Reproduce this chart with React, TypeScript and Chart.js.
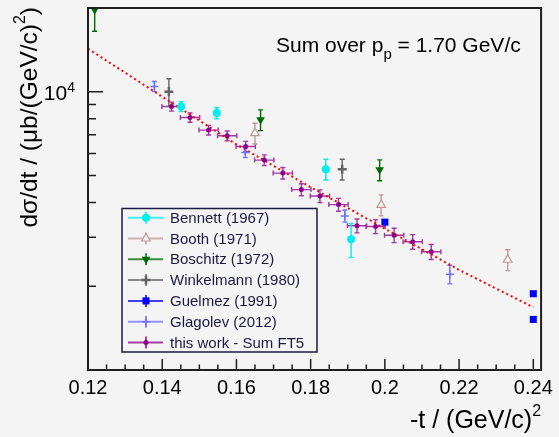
import React, { useEffect, useRef } from 'react';
import { Chart, registerables } from 'chart.js';
import { drawPoint } from 'chart.js/helpers';

Chart.register(...registerables);

const W = 559;
const H = 437;
const FONT = '"Liberation Sans", Arial, Helvetica, sans-serif';
const BG = '#f4f4f4';

// ---------- data ----------
const thisWorkX = [0.1425, 0.1475, 0.1525, 0.1575, 0.1625, 0.1675, 0.1725, 0.1775, 0.1825, 0.1875, 0.1925, 0.1975, 0.2025, 0.2075, 0.2125];
const thisWorkY = [8850, 8080, 7280, 6950, 6360, 5680, 5100, 4450, 4220, 3930, 3300, 3280, 3050, 2890, 2660];
const thisWorkErr = [330, 310, 290, 280, 270, 250, 240, 220, 220, 210, 190, 190, 180, 175, 165];
const thisWorkBinHalf = 0.0026;

const bennettX = [0.1451, 0.1547, 0.1841, 0.1909];
const bennettY = [8850, 8380, 5270, 2950];
const bennettErr = [360, 385, 450, 410];

const boothX = [0.165, 0.199, 0.2331];
const boothY = [7100, 3920, 2490];
const boothErr = [610, 340, 215];

const boschitzX = [0.1218, 0.1665, 0.1986];
const boschitzY = [19700, 7930, 5240];
const boschitzErr = [3200, 680, 450];

const winkelmannX = [0.1418, 0.1885];
const winkelmannY = [10000, 5270];
const winkelmannErr = [1140, 450];

const guelmezX = [0.2, 0.24, 0.24];
const guelmezY = [3400, 1880, 1520];

const glagolevX = [0.1379, 0.1624, 0.1892, 0.2175];
const glagolevY = [10450, 6050, 3580, 2210];
const glagolevErr = [440, 250, 180, 170];

const fitX = [0.12, 0.14, 0.16, 0.18, 0.2, 0.22, 0.24];
const fitY = [14280, 9600, 6470, 4540, 3220, 2290, 1680];

const xTickValues = [0.12, 0.14, 0.16, 0.18, 0.2, 0.22, 0.24];
const xMinorTickValues = [0.125, 0.13, 0.135, 0.145, 0.15, 0.155, 0.165, 0.17, 0.175, 0.185, 0.19, 0.195, 0.205, 0.21, 0.215, 0.225, 0.23, 0.235];
const yMajorTickValues = [10000];
const yMinorTickValues = [2000, 3000, 4000, 5000, 6000, 7000, 8000, 9000, 20000];

// ---------- colours ----------
const C_BENNETT = '#00eeee';
const C_BOOTH = '#c09a9a';
const C_BOSCHITZ = '#006a00';
const C_WINKEL = '#646464';
const C_GUELMEZ = '#0000ff';
const C_GLAGOLEV = '#7070ff';
const C_THIS = '#8b008b';
const C_THIS_ERR = '#a536a5';
const C_FIT = '#ff0000';
const C_LEGEND = '#1a1a40';

const pts = (xs: number[], ys: number[]) => xs.map((x, i) => ({ x, y: ys[i] }));

const legendEntries = [
  { label: 'Bennett (1967)', color: C_BENNETT, style: 'circle', radius: 4, fill: C_BENNETT, bw: 0, rot: 0 },
  { label: 'Booth (1971)', color: C_BOOTH, style: 'triangle', radius: 5, fill: BG, bw: 1.2, rot: 0 },
  { label: 'Boschitz (1972)', color: C_BOSCHITZ, style: 'triangle', radius: 5, fill: C_BOSCHITZ, bw: 0, rot: 180 },
  { label: 'Winkelmann (1980)', color: C_WINKEL, style: 'cross', radius: 4.5, fill: C_WINKEL, bw: 2.5, rot: 0 },
  { label: 'Guelmez (1991)', color: C_GUELMEZ, style: 'rect', radius: 5, fill: C_GUELMEZ, bw: 0, rot: 0 },
  { label: 'Glagolev (2012)', color: C_GLAGOLEV, style: 'cross', radius: 4, fill: C_GLAGOLEV, bw: 1.5, rot: 0 },
  { label: 'this work - Sum FT5', color: C_THIS, style: 'circle', radius: 2.5, fill: C_THIS, bw: 0, rot: 0 },
];

type Piece = { t: string; size: number; dy: number };

function drawPieces(ctx: CanvasRenderingContext2D, pieces: Piece[], x: number, y: number, align: 'left' | 'right', angle = 0, color = '#000') {
  ctx.save();
  ctx.translate(x, y);
  ctx.rotate(angle);
  ctx.fillStyle = color;
  ctx.textAlign = 'left';
  ctx.textBaseline = 'alphabetic';
  let total = 0;
  const widths = pieces.map((p) => {
    ctx.font = `${p.size}px ${FONT}`;
    const w = ctx.measureText(p.t).width;
    total += w;
    return w;
  });
  let cx = align === 'right' ? -total : 0;
  pieces.forEach((p, i) => {
    ctx.font = `${p.size}px ${FONT}`;
    ctx.fillText(p.t, cx, p.dy);
    cx += widths[i];
  });
  ctx.restore();
}

const rootPlugin = {
  id: 'rootStyle',
  beforeDraw(chart: any) {
    const ctx = chart.ctx as CanvasRenderingContext2D;
    ctx.save();
    ctx.fillStyle = BG;
    ctx.fillRect(0, 0, chart.width, chart.height);
    ctx.restore();
  },
  beforeDatasetsDraw(chart: any) {
    const ctx = chart.ctx as CanvasRenderingContext2D;
    const xs = chart.scales.x;
    const ys = chart.scales.y;
    const a = chart.chartArea;
    ctx.save();
    ctx.beginPath();
    ctx.rect(a.left, a.top, a.right - a.left, a.bottom - a.top);
    ctx.clip();
    ctx.lineWidth = 1.4;
    const cap = 2.5;
    chart.data.datasets.forEach((ds: any) => {
      if (!ds.errY && !ds.errX) return;
      ctx.strokeStyle = ds.errColor || ds.borderColor;
      ds.data.forEach((p: any, i: number) => {
        const px = xs.getPixelForValue(p.x);
        const py = ys.getPixelForValue(p.y);
        ctx.beginPath();
        if (ds.errY) {
          const e = ds.errY[i];
          const y1 = ys.getPixelForValue(p.y + e);
          const y2 = ys.getPixelForValue(p.y - e);
          ctx.moveTo(px, y1); ctx.lineTo(px, y2);
          ctx.moveTo(px - cap, y1); ctx.lineTo(px + cap, y1);
          ctx.moveTo(px - cap, y2); ctx.lineTo(px + cap, y2);
        }
        if (ds.errX) {
          const e = ds.errX[i];
          const x1 = xs.getPixelForValue(p.x - e);
          const x2 = xs.getPixelForValue(p.x + e);
          ctx.moveTo(x1, py); ctx.lineTo(x2, py);
          ctx.moveTo(x1, py - cap); ctx.lineTo(x1, py + cap);
          ctx.moveTo(x2, py - cap); ctx.lineTo(x2, py + cap);
        }
        ctx.stroke();
      });
    });
    ctx.restore();
  },
  afterDraw(chart: any) {
    const ctx = chart.ctx as CanvasRenderingContext2D;
    const xs = chart.scales.x;
    const ys = chart.scales.y;
    const a = chart.chartArea;
    ctx.save();
    // frame
    ctx.strokeStyle = '#1e1e1e';
    ctx.lineWidth = 2;
    ctx.strokeRect(a.left, a.top, a.right - a.left, a.bottom - a.top);
    // inward ticks
    ctx.lineWidth = 1.5;
    ctx.beginPath();
    xTickValues.forEach((v) => {
      const px = xs.getPixelForValue(v);
      ctx.moveTo(px, a.bottom); ctx.lineTo(px, a.bottom - 11);
    });
    xMinorTickValues.forEach((v) => {
      const px = xs.getPixelForValue(v);
      ctx.moveTo(px, a.bottom); ctx.lineTo(px, a.bottom - 5.5);
    });
    yMajorTickValues.forEach((v) => {
      const py = ys.getPixelForValue(v);
      ctx.moveTo(a.left, py); ctx.lineTo(a.left + 15, py);
    });
    yMinorTickValues.forEach((v) => {
      const py = ys.getPixelForValue(v);
      ctx.moveTo(a.left, py); ctx.lineTo(a.left + 8, py);
    });
    ctx.stroke();
    ctx.restore();

    // y tick label 10^4
    yMajorTickValues.forEach((v) => {
      const py = ys.getPixelForValue(v);
      const exp = Math.round(Math.log10(v));
      drawPieces(ctx, [
        { t: '10', size: 21, dy: 0 },
        { t: String(exp), size: 14, dy: -8 },
      ], a.left - 13, py + 8, 'right');
    });

    // axis titles
    drawPieces(ctx, [
      { t: '-t / (GeV/c)', size: 25, dy: 0 },
      { t: '2', size: 16, dy: -12 },
    ], a.right, 428, 'right');
    drawPieces(ctx, [
      { t: 'd\u03c3/dt / (\u03bcb/(GeV/c)', size: 24.5, dy: 0 },
      { t: '2', size: 16, dy: -12 },
      { t: ')', size: 24.5, dy: 0 },
    ], 37, a.top - 1, 'right', -Math.PI / 2);

    // annotation
    drawPieces(ctx, [
      { t: 'Sum over p', size: 21, dy: 0 },
      { t: 'p', size: 15, dy: 7 },
      { t: ' = 1.70 GeV/c', size: 21, dy: 0 },
    ], 276, 52, 'left');

    // legend
    const lx0 = 122, ly0 = 208.5, lx1 = 317, ly1 = 352;
    ctx.save();
    ctx.fillStyle = BG;
    ctx.fillRect(lx0, ly0, lx1 - lx0, ly1 - ly0);
    ctx.strokeStyle = C_LEGEND;
    ctx.lineWidth = 1.5;
    ctx.strokeRect(lx0, ly0, lx1 - lx0, ly1 - ly0);
    legendEntries.forEach((e, i) => {
      const y = 217.7 + i * 20.8;
      ctx.globalAlpha = 0.75;
      ctx.strokeStyle = e.color;
      ctx.lineWidth = 2;
      ctx.beginPath();
      ctx.moveTo(128, y); ctx.lineTo(163, y);
      ctx.moveTo(146, y - 6); ctx.lineTo(146, y + 6);
      ctx.stroke();
      ctx.globalAlpha = 1;
      ctx.fillStyle = e.fill;
      ctx.strokeStyle = e.color;
      ctx.lineWidth = e.bw;
      drawPoint(ctx, { pointStyle: e.style as any, rotation: e.rot, radius: e.radius, borderWidth: e.bw }, 146, y);
      ctx.fillStyle = C_LEGEND;
      ctx.font = `15px ${FONT}`;
      ctx.textAlign = 'left';
      ctx.textBaseline = 'middle';
      ctx.fillText(e.label, 170, y + 1);
    });
    ctx.restore();
  },
};

export default function App() {
  const ref = useRef<HTMLCanvasElement>(null);
  useEffect(() => {
    const canvas = ref.current;
    if (!canvas) return;
    const chart = new Chart(canvas, {
      type: 'scatter',
      data: {
        datasets: [
          {
            label: 'this work - Sum FT5', data: pts(thisWorkX, thisWorkY),
            errY: thisWorkErr, errX: thisWorkX.map(() => thisWorkBinHalf), errColor: C_THIS_ERR,
            pointStyle: 'circle', pointRadius: 2.5, backgroundColor: C_THIS, borderColor: C_THIS, borderWidth: 0,
          } as any,
          {
            label: 'Bennett (1967)', data: pts(bennettX, bennettY), errY: bennettErr,
            pointStyle: 'circle', pointRadius: 4, backgroundColor: C_BENNETT, borderColor: C_BENNETT, borderWidth: 0,
          } as any,
          {
            label: 'Booth (1971)', data: pts(boothX, boothY), errY: boothErr,
            pointStyle: 'triangle', pointRadius: 5, backgroundColor: BG, borderColor: C_BOOTH, borderWidth: 1.2,
          } as any,
          {
            label: 'Boschitz (1972)', data: pts(boschitzX, boschitzY), errY: boschitzErr,
            pointStyle: 'triangle', rotation: 180, pointRadius: 5, backgroundColor: C_BOSCHITZ, borderColor: C_BOSCHITZ, borderWidth: 0,
          } as any,
          {
            label: 'Winkelmann (1980)', data: pts(winkelmannX, winkelmannY), errY: winkelmannErr,
            pointStyle: 'cross', pointRadius: 4.5, backgroundColor: C_WINKEL, borderColor: C_WINKEL, borderWidth: 2.5,
          } as any,
          {
            label: 'Guelmez (1991)', data: pts(guelmezX, guelmezY),
            pointStyle: 'rect', pointRadius: 5, backgroundColor: C_GUELMEZ, borderColor: C_GUELMEZ, borderWidth: 0,
          } as any,
          {
            label: 'Glagolev (2012)', data: pts(glagolevX, glagolevY), errY: glagolevErr,
            pointStyle: 'cross', pointRadius: 4, backgroundColor: C_GLAGOLEV, borderColor: C_GLAGOLEV, borderWidth: 1.5,
          } as any,
          {
            label: 'fit', data: pts(fitX, fitY), showLine: true, pointRadius: 0,
            borderColor: C_FIT, borderWidth: 2, borderDash: [2, 3], fill: false,
          } as any,
        ],
      },
      options: {
        responsive: false,
        maintainAspectRatio: false,
        animation: false,
        events: [],
        layout: { padding: { top: 8, right: 14, left: 0, bottom: 0 } },
        plugins: { legend: { display: false }, tooltip: { enabled: false } },
        scales: {
          x: {
            type: 'linear', min: 0.12, max: 0.2421,
            afterFit: (s: any) => { s.height = 67; },
            afterBuildTicks: (s: any) => { s.ticks = xTickValues.map((v) => ({ value: v })); },
            grid: { display: false, drawTicks: false },
            border: { display: false },
            ticks: {
              font: { family: FONT, size: 20 }, color: '#000', padding: 6, maxRotation: 0, autoSkip: false,
              callback: (v: any) => String(Number(Number(v).toFixed(2))),
            },
          },
          y: {
            type: 'logarithmic', min: 1000, max: 20000,
            afterFit: (s: any) => { s.width = 88; },
            grid: { display: false, drawTicks: false },
            border: { display: false },
            ticks: { display: false },
          },
        },
      } as any,
      plugins: [rootPlugin],
    });
    return () => chart.destroy();
  }, []);
  return (
    <div style={{ position: 'fixed', left: 0, top: 0, width: W, height: H, background: BG }}>
      <canvas ref={ref} width={W} height={H} style={{ display: 'block', width: W, height: H }} />
    </div>
  );
}
